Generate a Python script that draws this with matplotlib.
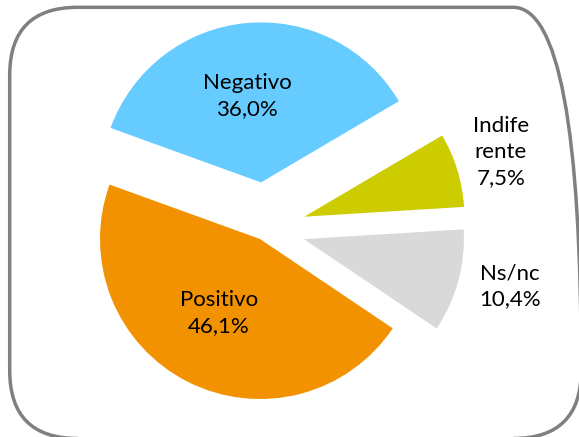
import matplotlib
matplotlib.use('Agg')
import matplotlib.pyplot as plt
from matplotlib.patches import FancyBboxPatch

# Chart data
labels = ['Negativo', 'Indife\nrente', 'Ns/nc', 'Positivo']
values = [36.0, 7.5, 10.4, 46.1]
colors = ['#66CCFF', '#CCCC00', '#D9D9D9', '#F39200']
explode_frac = [0.29, 0.255, 0.25, 0.073]

W, H = 579, 437
R = 160
cx, cy = 265.3, H - 228.6

fig = plt.figure(figsize=(W / 100, H / 100), dpi=100)
ax = fig.add_axes([0, 0, 1, 1])

wedges, _ = ax.pie(values, colors=colors, explode=[f * R for f in explode_frac],
                   startangle=160.1, counterclock=False, radius=R, center=(cx, cy),
                   wedgeprops=dict(linewidth=0))

# label positions in pixel coords (x, y from top)
label_pos = [(247, 96), (501, 152), (510, 286), (219, 313)]
for lab, v, (lx, ly) in zip(labels, values, label_pos):
    txt = f"{lab}\n{v:.1f}%".replace('.', ',')
    ax.text(lx, H - ly, txt, ha='center', va='center', fontsize=16,
            family='Lato', color='black', linespacing=1.37)

# rounded frame around the chart (runs off the right and bottom edges)
frame = FancyBboxPatch((9.7, H - 438.5), 571.5, 431.2, boxstyle="round,pad=0,rounding_size=68",
                       facecolor='none', edgecolor='#808080', linewidth=2.5)
ax.add_patch(frame)

ax.set_xlim(0, W)
ax.set_ylim(0, H)
ax.set_aspect('equal')
ax.axis('off')

fig.savefig('out.png', dpi=100)
